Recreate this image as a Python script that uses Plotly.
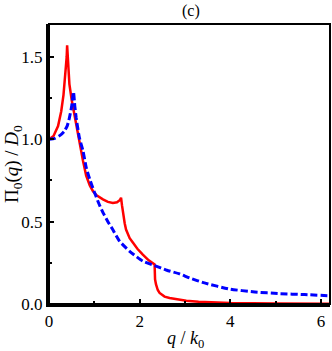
import plotly.graph_objects as go

# red solid curve
q_red = [0.0, 0.10, 0.20, 0.27, 0.32, 0.36, 0.39, 0.40, 0.42, 0.45, 0.50, 0.56, 0.62,
         0.67, 0.75, 0.82, 0.90, 0.97, 1.05, 1.19, 1.30, 1.41, 1.50, 1.56, 1.59, 1.61,
         1.63, 1.67, 1.70, 1.78, 1.85, 1.95, 2.07, 2.20, 2.33, 2.34, 2.36, 2.40, 2.44,
         2.50, 2.55, 2.66, 2.85, 3.03, 3.30, 3.60, 4.00, 5.00, 6.20]
pi_red = [1.00, 1.02, 1.08, 1.17, 1.27, 1.38, 1.50, 1.57, 1.44, 1.335, 1.24, 1.15, 1.05,
          0.97, 0.87, 0.78, 0.72, 0.685, 0.66, 0.635, 0.62, 0.613, 0.618, 0.63, 0.645, 0.60,
          0.556, 0.49, 0.452, 0.40, 0.373, 0.335, 0.30, 0.265, 0.24, 0.15, 0.12, 0.085, 0.067,
          0.053, 0.045, 0.036, 0.027, 0.02, 0.014, 0.01, 0.006, 0.003, 0.001]

# blue dashed curve
q_blue = [0.0, 0.13, 0.25, 0.34, 0.40, 0.45, 0.50, 0.54, 0.57, 0.60, 0.67, 0.75, 0.82,
          0.90, 1.00, 1.10, 1.20, 1.30, 1.40, 1.56, 1.78, 2.07, 2.33, 2.60, 2.88, 3.10,
          3.43, 3.98, 4.54, 5.09, 5.64, 6.20]
pi_blue = [1.00, 1.006, 1.025, 1.05, 1.08, 1.13, 1.20, 1.288, 1.20, 1.13, 1.01, 0.93, 0.83,
           0.757, 0.68, 0.61, 0.55, 0.50, 0.455, 0.38, 0.32, 0.26, 0.233, 0.205, 0.183, 0.158,
           0.128, 0.091, 0.073, 0.063, 0.057, 0.05]

font = "Liberation Serif"

fig = go.Figure()
fig.add_trace(go.Scatter(x=q_red, y=pi_red, mode="lines",
                         line=dict(color="#ff0000", width=2.5)))
fig.add_trace(go.Scatter(x=q_blue, y=pi_blue, mode="lines",
                         line=dict(color="#0000ff", width=3, dash="7px,3px",
                                   shape="spline", smoothing=0.5)))

fig.update_layout(
    width=332, height=351,
    margin=dict(l=49, r=2, t=24, b=47, autoexpand=False),
    paper_bgcolor="white", plot_bgcolor="white",
    showlegend=False,
    font=dict(family=font, size=17, color="black"),
)
fig.update_xaxes(
    range=[0, 6.2], tickvals=[0, 2, 4, 6], ticks="inside", ticklen=5, tickwidth=2,
    tickcolor="black", showgrid=False, zeroline=False, showline=True,
    linecolor="black", linewidth=3, automargin=False,
    minor=dict(tickvals=[1, 3, 5], ticks="inside", ticklen=3, tickwidth=2, tickcolor="black"),
)
fig.update_yaxes(
    range=[0, 1.7], tickvals=[0, 0.5, 1.0, 1.5], tickformat=".1f", ticks="inside",
    ticklen=5, tickwidth=2, tickcolor="black", showgrid=False, zeroline=False,
    showline=True, linecolor="black", linewidth=3, automargin=False,
    minor=dict(tickvals=[0.25, 0.75, 1.25], ticks="inside", ticklen=3, tickwidth=2,
               tickcolor="black"),
)
# title and axis labels
fig.add_annotation(text="(c)", xref="paper", yref="paper", x=0.505, y=1.0, yshift=2,
                   xanchor="center", yanchor="bottom", showarrow=False,
                   font=dict(family=font, size=16))
fig.add_annotation(text="<i>q</i> / <i>k</i><sub>0</sub>", xref="paper", yref="paper",
                   x=0.485, y=0, yshift=-22, xanchor="center", yanchor="top",
                   showarrow=False, font=dict(family=font, size=18))
fig.add_annotation(text="\u03a0<sub>0</sub>(<i>q</i>) / <i>D</i><sub>0</sub>",
                   xref="paper", yref="paper", x=0, xshift=-36, y=0.5,
                   xanchor="center", yanchor="middle", textangle=-90,
                   showarrow=False, font=dict(family=font, size=19))
# top and right frame
fig.add_shape(type="rect", xref="paper", yref="paper", x0=0, x1=1, y0=0, y1=1,
              line=dict(color="black", width=2), layer="above")

fig.write_html("out.html", config={"displayModeBar": False},
               post_script="document.body.style.margin='0';")
